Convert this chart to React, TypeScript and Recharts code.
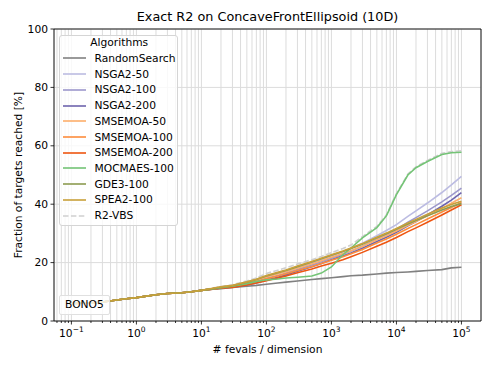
import React from "react";
import {
  LineChart,
  Line,
  XAxis,
  YAxis,
  CartesianGrid,
  ReferenceLine,
  Legend,
  Label
} from "recharts";

// fevals / dimension
const fevals = [0.1, 0.2, 0.3, 0.5, 0.7, 1, 2, 3, 5, 7, 10, 15, 20, 30, 50, 70, 100, 150, 200, 300, 500, 700, 1000, 1500, 2000, 3000, 5000, 7000, 10000, 15000, 20000, 30000, 50000, 70000, 100000];

const randomSearch = [6.0, 6.2, 6.5, 7.2, 7.6, 8.0, 9.0, 9.4, 9.7, 10.0, 10.5, 10.9, 11.1, 11.5, 11.9, 12.2, 12.6, 13.0, 13.3, 13.7, 14.2, 14.5, 14.8, 15.2, 15.5, 15.7, 16.1, 16.4, 16.6, 16.8, 17.0, 17.3, 17.6, 18.2, 18.4];
const nsga50 = [6.0, 6.2, 6.5, 7.2, 7.6, 8.0, 9.0, 9.4, 9.7, 10.0, 10.5, 11.1, 11.5, 12.0, 13.1, 14.0, 15.3, 16.4, 17.2, 18.4, 19.9, 21.0, 22.3, 23.7, 24.8, 26.6, 29.2, 31.0, 33.0, 35.8, 37.7, 40.4, 44.0, 46.6, 49.5];
const nsga100 = [6.0, 6.2, 6.5, 7.2, 7.6, 8.0, 9.0, 9.4, 9.7, 10.0, 10.5, 11.0, 11.4, 11.8, 12.7, 13.5, 14.6, 15.6, 16.4, 17.6, 19.2, 20.3, 21.6, 22.9, 24.0, 25.6, 28.0, 29.6, 31.4, 33.8, 35.4, 37.7, 40.8, 43.0, 45.5];
const nsga200 = [6.0, 6.2, 6.5, 7.2, 7.6, 8.0, 9.0, 9.4, 9.7, 10.0, 10.5, 11.0, 11.3, 11.6, 12.3, 13.0, 14.0, 15.0, 15.8, 17.0, 18.6, 19.7, 21.0, 22.3, 23.3, 24.9, 27.2, 28.7, 30.4, 32.6, 34.1, 36.3, 39.3, 41.4, 44.0];
const sms50 = [6.0, 6.2, 6.5, 7.2, 7.6, 8.0, 9.0, 9.4, 9.7, 10.0, 10.5, 11.1, 11.5, 12.0, 13.2, 14.0, 15.1, 16.1, 16.9, 18.1, 19.6, 20.6, 21.8, 23.1, 24.1, 25.6, 27.8, 29.2, 30.8, 32.8, 34.1, 36.0, 38.5, 40.3, 42.2];
const sms100 = [6.0, 6.2, 6.5, 7.2, 7.6, 8.0, 9.0, 9.4, 9.7, 10.0, 10.5, 11.0, 11.4, 11.8, 12.8, 13.5, 14.5, 15.4, 16.2, 17.3, 18.7, 19.7, 20.8, 22.0, 23.0, 24.5, 26.7, 28.1, 29.7, 31.7, 33.0, 34.9, 37.3, 38.9, 40.6];
const sms200 = [6.0, 6.2, 6.5, 7.2, 7.6, 8.0, 9.0, 9.4, 9.7, 10.0, 10.5, 10.9, 11.2, 11.5, 12.3, 13.0, 13.8, 14.7, 15.4, 16.5, 17.8, 18.8, 19.8, 21.0, 22.0, 23.5, 25.6, 27.0, 28.6, 30.6, 31.9, 33.8, 36.3, 38.0, 39.8];
const mocmaes = [6.0, 6.2, 6.5, 7.2, 7.6, 8.0, 9.0, 9.4, 9.7, 10.0, 10.5, 11.0, 11.4, 11.9, 12.8, 13.5, 14.1, 14.4, 14.7, 15.0, 15.4, 16.4, 18.5, 22.7, 25.0, 28.5, 32.0, 36.0, 43.3, 50.0, 52.5, 54.6, 57.0, 57.6, 57.8];
const gde3 = [6.0, 6.2, 6.5, 7.2, 7.6, 8.0, 9.0, 9.4, 9.7, 10.0, 10.5, 11.1, 11.6, 12.1, 13.3, 14.2, 15.4, 16.5, 17.3, 18.6, 20.2, 21.3, 22.5, 23.8, 24.8, 26.3, 28.5, 29.9, 31.4, 33.2, 34.4, 36.0, 38.0, 39.2, 40.2];
const spea2 = [6.0, 6.2, 6.5, 7.2, 7.6, 8.0, 9.0, 9.4, 9.7, 10.0, 10.5, 11.2, 11.7, 12.2, 13.4, 14.3, 15.6, 16.7, 17.5, 18.8, 20.4, 21.5, 22.7, 24.0, 25.0, 26.5, 28.7, 30.1, 31.7, 33.6, 34.8, 36.6, 38.7, 39.9, 41.0];
const r2vbs = [6.0, 6.2, 6.5, 7.2, 7.6, 8.0, 9.0, 9.4, 9.7, 10.0, 10.5, 11.3, 11.8, 12.4, 13.7, 14.7, 16.3, 17.4, 18.2, 19.5, 21.0, 22.1, 23.4, 24.8, 26.0, 28.9, 32.4, 36.3, 43.6, 50.3, 52.8, 55.0, 57.4, 58.0, 58.3];

const algorithms = [
  { name: "RandomSearch", values: randomSearch, color: "#808080", dash: undefined },
  { name: "NSGA2-50", values: nsga50, color: "#bcbce2", dash: undefined },
  { name: "NSGA2-100", values: nsga100, color: "#9d98cc", dash: undefined },
  { name: "NSGA2-200", values: nsga200, color: "#6e64ad", dash: undefined },
  { name: "SMSEMOA-50", values: sms50, color: "#fdae6b", dash: undefined },
  { name: "SMSEMOA-100", values: sms100, color: "#fd8d3c", dash: undefined },
  { name: "SMSEMOA-200", values: sms200, color: "#ee5511", dash: undefined },
  { name: "MOCMAES-100", values: mocmaes, color: "#74c476", dash: undefined },
  { name: "GDE3-100", values: gde3, color: "#8c9c50", dash: undefined },
  { name: "SPEA2-100", values: spea2, color: "#c9a03a", dash: undefined },
  { name: "R2-VBS", values: r2vbs, color: "#cfcfcf", dash: "5.5 2.4" }
];

// the VBS reference is drawn underneath the algorithm curves
const drawOrder = [algorithms[10], ...algorithms.slice(0, 10)];

const majorTicks = [0.1, 1, 10, 100, 1000, 10000, 100000];
const minorSteps = [2, 3, 4, 5, 6, 7, 8, 9];
const xMin = 0.054;
const xMax = 200000;
const yTicks = [0, 20, 40, 60, 80, 100];

const xTicks: number[] = [];
[0.01, ...majorTicks].forEach((m) => {
  if (m >= xMin) xTicks.push(m);
  minorSteps.forEach((s) => {
    const v = +(m * s).toPrecision(3);
    if (v >= xMin && v < xMax) xTicks.push(v);
  });
});

const data = fevals.map((f, i) => {
  const row: any = { f };
  algorithms.forEach((a) => (row[a.name] = a.values[i]));
  return row;
});

const FONT = "'DejaVu Sans', sans-serif";

const XTick = ({ x, y, payload }: any) => {
  const lg = Math.log10(payload.value);
  const e = Math.round(lg);
  const major = Math.abs(lg - e) < 1e-6;
  return (
    <g>
      <line x1={x} x2={x} y1={y} y2={y + (major ? 3.5 : 2)} stroke="#000" strokeWidth={0.8} />
      {major && (
        <text x={x} y={y + 16} textAnchor="middle" fontSize={10.7} fontFamily={FONT} fill="#000">
          <tspan>10</tspan>
          <tspan dy={-5} fontSize={7.5}>{e < 0 ? "\u2212" + -e : e}</tspan>
        </text>
      )}
    </g>
  );
};

const YTick = ({ x, y, payload }: any) => (
  <g>
    <line x1={x} x2={x - 3.5} y1={y} y2={y} stroke="#000" strokeWidth={0.8} />
    <text x={x - 6} y={y} textAnchor="end" dominantBaseline="central" fontSize={10.7} fontFamily={FONT} fill="#000">
      {payload.value}
    </text>
  </g>
);

const LegendBox = () => (
  <div
    style={{
      background: "rgba(255,255,255,0.8)",
      border: "1px solid #d5d5d5",
      borderRadius: 3,
      padding: "0px 2px 1px 3px",
      fontFamily: FONT,
      fontSize: 10.7,
      color: "#000"
    }}
  >
    <div style={{ textAlign: "center", height: 14.6, lineHeight: "14.6px" }}>Algorithms</div>
    {algorithms.map((a) => (
      <div key={a.name} style={{ display: "flex", alignItems: "center", height: 15.73 }}>
        <svg width={23} height={4} style={{ marginRight: 8.5 }}>
          <line x1={0} x2={23} y1={2} y2={2} stroke={a.color} strokeWidth={1.6} strokeDasharray={a.dash} />
        </svg>
        <span style={{ lineHeight: "15px" }}>{a.name}</span>
      </div>
    ))}
  </div>
);

export default function App() {
  return (
    <div style={{ position: "absolute", left: 0, top: 0, width: 493, height: 370, background: "#fff" }}>
      <div
        style={{
          position: "absolute",
          left: 54,
          width: 427,
          top: 9,
          textAlign: "center",
          fontFamily: FONT,
          fontSize: 12.8,
          color: "#000"
        }}
      >
        Exact R2 on ConcaveFrontEllipsoid (10D)
      </div>

      <LineChart width={493} height={370} data={data} margin={{ top: 29, right: 12, left: 0, bottom: 0 }}>
        <CartesianGrid stroke="#dcdcdc" strokeWidth={1} />
        <XAxis
          dataKey="f"
          type="number"
          scale="log"
          domain={[xMin, xMax]}
          allowDataOverflow
          ticks={xTicks}
          interval={0}
          height={49}
          tickSize={0}
          tickMargin={0}
          tickLine={false}
          axisLine={{ stroke: "#000", strokeWidth: 0.9 }}
          tick={<XTick />}
        >
          <Label
            content={({ viewBox }: any) => (
              <text
                x={viewBox.x + viewBox.width / 2}
                y={viewBox.y + 32}
                textAnchor="middle"
                fontSize={10.7}
                fontFamily={FONT}
                fill="#000"
              >
                # fevals / dimension
              </text>
            )}
          />
        </XAxis>
        <YAxis
          type="number"
          domain={[0, 100]}
          ticks={yTicks}
          width={54}
          tickSize={0}
          tickMargin={0}
          tickLine={false}
          axisLine={{ stroke: "#000", strokeWidth: 0.9 }}
          tick={<YTick />}
        >
          <Label
            content={({ viewBox }: any) => {
              const cy = viewBox.y + viewBox.height / 2;
              return (
                <text
                  x={18}
                  y={cy}
                  transform={`rotate(-90 18 ${cy})`}
                  textAnchor="middle"
                  dominantBaseline="central"
                  fontSize={10.7}
                  fontFamily={FONT}
                  fill="#000"
                >
                  Fraction of targets reached [%]
                </text>
              );
            }}
          />
        </YAxis>
        <ReferenceLine y={100} stroke="#000" strokeWidth={0.9} />
        <ReferenceLine x={xMax} stroke="#000" strokeWidth={0.9} />
        {drawOrder.map((a) => (
          <Line
            key={a.name}
            type="linear"
            dataKey={a.name}
            stroke={a.color}
            strokeWidth={1.6}
            strokeDasharray={a.dash}
            dot={false}
            activeDot={false}
            isAnimationActive={false}
          />
        ))}
        <Legend
          layout="vertical"
          align="center"
          verticalAlign="middle"
          wrapperStyle={{ left: 59, top: 35, width: "auto", height: "auto" }}
          content={<LegendBox />}
        />
      </LineChart>

      <div
        style={{
          position: "absolute",
          left: 59,
          top: 295,
          width: 44,
          height: 18,
          background: "rgba(255,255,255,0.8)",
          border: "1px solid #e0e0e0",
          borderRadius: 2,
          fontFamily: FONT,
          fontSize: 10.7,
          lineHeight: "18px",
          paddingLeft: 5,
          color: "#000"
        }}
      >
        BONO5
      </div>
    </div>
  );
}
